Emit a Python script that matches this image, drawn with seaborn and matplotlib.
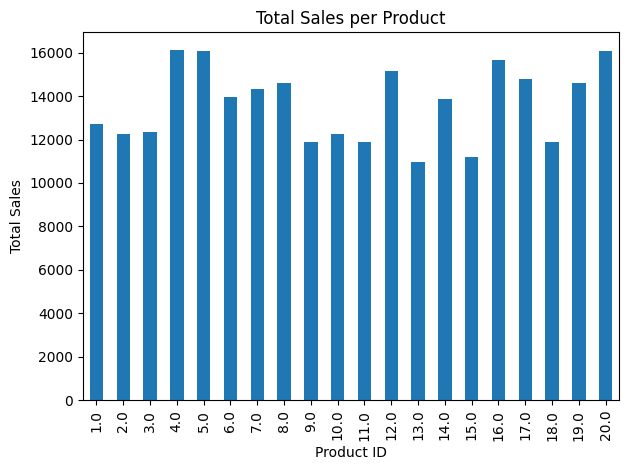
import pandas as pd
import matplotlib
matplotlib.use("Agg")
import matplotlib.pyplot as plt
import seaborn as sns

product_ids = [1.0, 2.0, 3.0, 4.0, 5.0, 6.0, 7.0, 8.0, 9.0, 10.0,
               11.0, 12.0, 13.0, 14.0, 15.0, 16.0, 17.0, 18.0, 19.0, 20.0]
total_sales = [12700, 12280, 12370, 16150, 16100, 13940, 14310, 14590, 11870, 12235,
               11910, 15180, 10990, 13890, 11220, 15690, 14770, 11910, 14590, 16060]

df = pd.DataFrame({"Product ID": [str(p) for p in product_ids], "Total Sales": total_sales})

fig, ax = plt.subplots(figsize=(6.3, 4.7), dpi=100)
sns.barplot(data=df, x="Product ID", y="Total Sales", color="#1f77b4",
            saturation=1, width=0.5, ax=ax)
ax.set_ylim(0, max(total_sales) * 1.05)
ax.tick_params(axis="x", rotation=90)
ax.set_title("Total Sales per Product")
fig.subplots_adjust(left=83 / 630, right=619 / 630, top=1 - 32 / 470, bottom=1 - 400 / 470)
plt.savefig("out.png")
